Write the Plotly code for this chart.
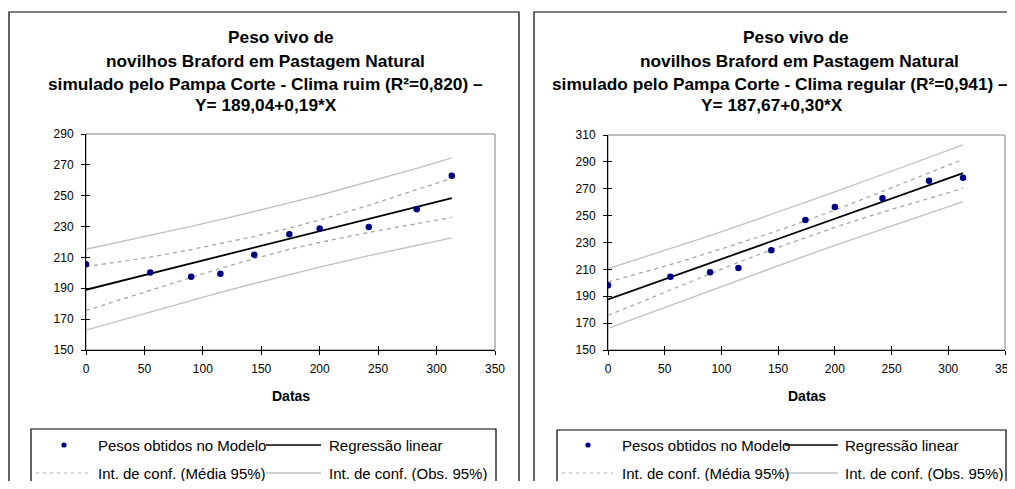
import plotly.graph_objects as go

# ---------------- data ----------------
datas = [0, 55, 90, 115, 144, 174, 200, 242, 283, 313]

# Clima ruim
pesos_ruim = [205.5, 200.3, 197.5, 199.5, 211.8, 225.0, 228.8, 229.8, 241.2, 263.0]
reg_ruim = (189.04, 0.19)
ic_media_sup_ruim = [204.0, 210.2, 215.1, 218.9, 223.6, 229.0, 234.3, 243.8, 253.7, 261.3]
ic_media_inf_ruim = [175.6, 188.8, 197.1, 202.9, 209.2, 215.2, 219.7, 226.2, 231.9, 235.9]
ic_obs_sup_ruim = [215.3, 224.2, 230.1, 234.5, 239.7, 245.3, 250.3, 258.9, 267.7, 274.6]
ic_obs_inf_ruim = [162.9, 174.8, 182.1, 187.3, 193.1, 198.9, 203.7, 211.1, 217.9, 222.7]

# Clima regular
pesos_regular = [198.2, 204.5, 207.8, 211.0, 224.2, 246.8, 256.4, 263.0, 275.9, 278.2]
reg_regular = (187.67, 0.30)
ic_media_sup_regular = [200.6, 213.5, 222.6, 229.2, 237.2, 246.0, 254.1, 268.0, 282.1, 291.9]
ic_media_inf_regular = [175.8, 194.9, 206.8, 215.2, 224.6, 233.8, 241.3, 252.6, 263.1, 270.3]
ic_obs_sup_regular = [210.5, 225.2, 235.1, 242.3, 250.8, 259.7, 267.6, 280.6, 293.4, 302.6]
ic_obs_inf_regular = [166.0, 183.2, 194.3, 202.1, 211.0, 220.1, 227.8, 240.0, 251.8, 260.4]

titulo_ruim = ["Peso vivo de", "novilhos Braford em Pastagem Natural",
               "simulado pelo Pampa Corte - Clima ruim (R²=0,820) –", "Y= 189,04+0,19*X"]
titulo_regular = ["Peso vivo de", "novilhos Braford em Pastagem Natural",
                  "simulado pelo Pampa Corte - Clima regular (R²=0,941) –", "Y= 187,67+0,30*X"]

leg_labels = ["Pesos obtidos no Modelo", "Regressão linear",
              "Int. de conf. (Média 95%)", "Int. de conf. (Obs. 95%)"]

x_ticks = [0, 50, 100, 150, 200, 250, 300, 350]
y_ticks_ruim = [150, 170, 190, 210, 230, 250, 270, 290]
y_ticks_regular = [150, 170, 190, 210, 230, 250, 270, 290, 310]

# ---------------- layout helpers ----------------
# page body has an 8px margin: figure is placed at (8, 8)
OFF = 8
W, H = 1015 - 2 * OFF, 489 - 2 * OFF
FONT = "Liberation Sans, Arial, Helvetica, sans-serif"


def px(x):
    return (x - OFF) / W


def py(y):
    return 1 - (y - OFF) / H


fig = go.Figure()

panels = [
    dict(xa="x", ya="y", xa2="x3", ya2="y3", pesos=pesos_ruim, reg=reg_ruim,
         ms=ic_media_sup_ruim, mi=ic_media_inf_ruim, os_=ic_obs_sup_ruim, oi=ic_obs_inf_ruim,
         xdom=[px(86), px(495)], ydom=[py(350), py(134)], yt=y_ticks_ruim),
    dict(xa="x2", ya="y2", xa2="x4", ya2="y4", pesos=pesos_regular, reg=reg_regular,
         ms=ic_media_sup_regular, mi=ic_media_inf_regular, os_=ic_obs_sup_regular, oi=ic_obs_inf_regular,
         xdom=[px(608), px(1005)], ydom=[py(350), py(135)], yt=y_ticks_regular),
]

for p in panels:
    a, b = p["reg"]
    reg_y = [a + b * x for x in datas]
    for ys in (p["os_"], p["oi"]):
        fig.add_trace(go.Scatter(x=datas, y=ys, mode="lines", xaxis=p["xa"], yaxis=p["ya"],
                                 line=dict(color="#c0c0c0", width=1.3), showlegend=False,
                                 hoverinfo="skip"))
    for ys in (p["ms"], p["mi"]):
        fig.add_trace(go.Scatter(x=datas, y=ys, mode="lines", xaxis=p["xa"], yaxis=p["ya"],
                                 line=dict(color="#a6a6a6", width=1.3, dash="4px,4px"),
                                 showlegend=False, hoverinfo="skip"))
    fig.add_trace(go.Scatter(x=[datas[0], datas[-1]], y=[reg_y[0], reg_y[-1]], mode="lines",
                             xaxis=p["xa"], yaxis=p["ya"], line=dict(color="black", width=1.8),
                             showlegend=False))
    fig.add_trace(go.Scatter(x=datas, y=p["pesos"], mode="markers", xaxis=p["xa"], yaxis=p["ya"],
                             marker=dict(color="#000080", size=6.5), showlegend=False))
    # invisible trace for cross-tick overlay axes
    fig.add_trace(go.Scatter(x=[None], y=[None], xaxis=p["xa2"], yaxis=p["ya2"],
                             showlegend=False, hoverinfo="skip"))

axis_common = dict(showgrid=False, zeroline=False, showline=True, linecolor="black",
                   linewidth=1, ticks="outside", ticklen=4, tickcolor="black", automargin=False,
                   ticklabeloverflow="allow",
                   tickfont=dict(family=FONT, size=12, color="black"))

lay = dict(width=W, height=H, margin=dict(l=0, r=0, t=0, b=0, pad=0, autoexpand=False),
           autosize=False, paper_bgcolor="white", plot_bgcolor="white", showlegend=False,
           font=dict(family=FONT, color="black"))

for i, p in enumerate(panels):
    xn = p["xa"].replace("x", "xaxis")
    yn = p["ya"].replace("y", "yaxis")
    xn2 = p["xa2"].replace("x", "xaxis")
    yn2 = p["ya2"].replace("y", "yaxis")
    yr = [p["yt"][0], p["yt"][-1]]
    lay[xn] = dict(axis_common, domain=p["xdom"], range=[0, 350], tickvals=x_ticks,
                   anchor=p["ya"], ticklabelstandoff=4)
    lay[yn] = dict(axis_common, domain=p["ydom"], range=yr, tickvals=p["yt"],
                   anchor=p["xa"], ticklabelstandoff=5)
    lay[xn2] = dict(overlaying=p["xa"], range=[0, 350], tickvals=x_ticks, anchor=p["ya2"],
                    ticks="inside", ticklen=4, tickcolor="black", showticklabels=False,
                    showgrid=False, zeroline=False, showline=False, automargin=False)
    lay[yn2] = dict(overlaying=p["ya"], range=yr, tickvals=p["yt"], anchor=p["xa2"],
                    ticks="inside", ticklen=4, tickcolor="black", showticklabels=False,
                    showgrid=False, zeroline=False, showline=False, automargin=False)

fig.update_layout(**lay)

shapes = []
annotations = []

# panel borders
for x0, x1 in ((9, 519), (534, 1030)):
    shapes.append(dict(type="rect", xref="paper", yref="paper", x0=px(x0), x1=px(x1),
                       y0=py(520), y1=py(12), line=dict(color="black", width=1.2),
                       fillcolor="rgba(0,0,0,0)", layer="below"))
# plot area borders (gray)
for p in panels:
    shapes.append(dict(type="rect", xref=p["xa"] + " domain", yref=p["ya"] + " domain",
                       x0=0, x1=1, y0=0, y1=1, line=dict(color="#808080", width=1),
                       layer="below"))

# titles
title_y = [37, 61, 84, 105]
for lines, centers in ((titulo_ruim, [281, 265, 265, 266]),
                       (titulo_regular, [796, 799, 780, 772])):
    for txt, cx, ty in zip(lines, centers, title_y):
        annotations.append(dict(text="<b>%s</b>" % txt, xref="paper", yref="paper",
                                x=px(cx), y=py(ty), xanchor="center", yanchor="middle",
                                showarrow=False, font=dict(family=FONT, size=17.3, color="black")))

# axis titles
for cx in (290.5, 806.5):
    annotations.append(dict(text="<b>Datas</b>", xref="paper", yref="paper", x=px(cx), y=py(396),
                            xanchor="center", yanchor="middle", showarrow=False,
                            font=dict(family=FONT, size=14, color="black")))

# legends (drawn manually, Excel style)
legends = [
    dict(box=(31, 496, 429), dot=64, t1=96, l2=(266, 321), t2=327, d=(36, 88)),
    dict(box=(557, 1006, 430), dot=588, t1=620, l2=(785, 838), t2=843, d=(562, 613)),
]
r1, r2 = 445, 473
for L in legends:
    bx0, bx1, by0 = L["box"]
    shapes.append(dict(type="rect", xref="paper", yref="paper", x0=px(bx0), x1=px(bx1),
                       y0=py(520), y1=py(by0), line=dict(color="black", width=1.2),
                       fillcolor="white"))
    shapes.append(dict(type="circle", xref="paper", yref="paper",
                       x0=px(L["dot"] - 2.6), x1=px(L["dot"] + 2.6),
                       y0=py(r1 + 2.6), y1=py(r1 - 2.6), fillcolor="#000080",
                       line=dict(color="#000080", width=0)))
    shapes.append(dict(type="line", xref="paper", yref="paper", x0=px(L["l2"][0]), x1=px(L["l2"][1]),
                       y0=py(r1), y1=py(r1), line=dict(color="black", width=1.5)))
    shapes.append(dict(type="line", xref="paper", yref="paper", x0=px(L["d"][0]), x1=px(L["d"][1]),
                       y0=py(r2), y1=py(r2), line=dict(color="#b0b0b0", width=1.2, dash="3px,4px")))
    shapes.append(dict(type="line", xref="paper", yref="paper", x0=px(L["l2"][0]), x1=px(L["l2"][1]),
                       y0=py(r2), y1=py(r2), line=dict(color="#c0c0c0", width=1.3)))
    for txt, tx, ty in ((leg_labels[0], L["t1"], r1), (leg_labels[1], L["t2"], r1),
                        (leg_labels[2], L["t1"], r2), (leg_labels[3], L["t2"], r2)):
        annotations.append(dict(text=txt, xref="paper", yref="paper", x=px(tx), y=py(ty),
                                xanchor="left", yanchor="middle", showarrow=False,
                                font=dict(family=FONT, size=15, color="black")))

fig.update_layout(shapes=shapes, annotations=annotations)
fig.write_html("out.html")
